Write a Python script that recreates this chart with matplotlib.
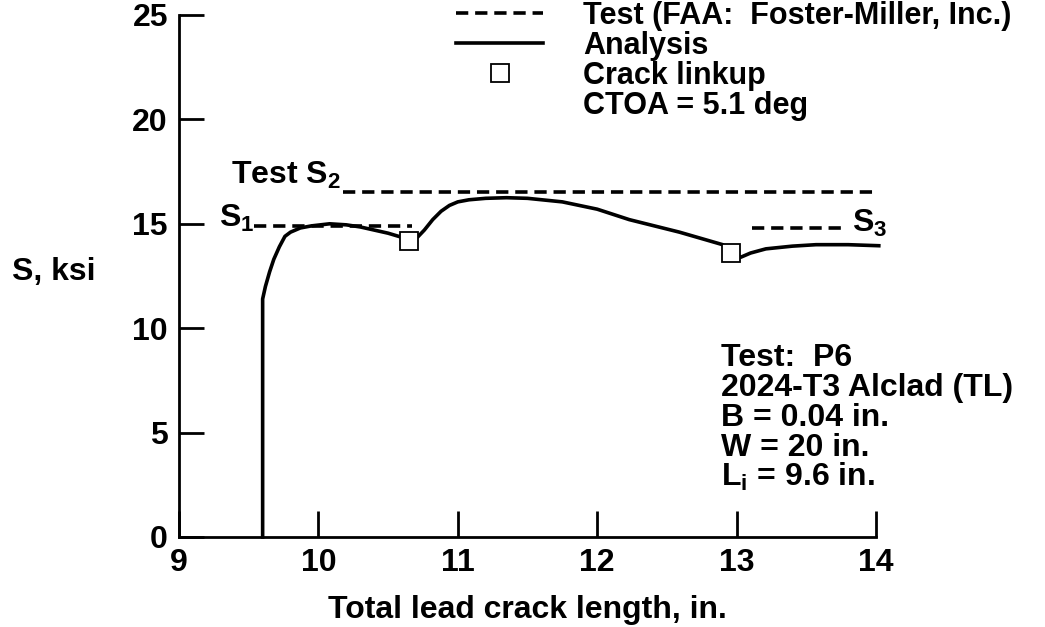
import matplotlib
matplotlib.use("Agg")
import matplotlib.pyplot as plt
from matplotlib.lines import Line2D

plt.rcParams['font.family'] = ['Liberation Sans', 'DejaVu Sans']
plt.rcParams['font.weight'] = 'bold'
plt.rcParams['axes.labelweight'] = 'bold'
plt.rcParams['mathtext.fontset'] = 'custom'
plt.rcParams['mathtext.rm'] = 'Liberation Sans:bold'
plt.rcParams['mathtext.it'] = 'Liberation Sans:bold'
plt.rcParams['mathtext.bf'] = 'Liberation Sans:bold'

# analysis curve (crack length in., stress ksi)
ana_x = [9.6, 9.6, 9.62, 9.65, 9.68, 9.72, 9.76, 9.8, 9.87, 9.95, 10.08, 10.2,
         10.3, 10.4, 10.5, 10.6, 10.65,
         10.71, 10.76, 10.82, 10.88, 10.94, 11.0, 11.08, 11.2, 11.35, 11.5,
         11.75, 12.0, 12.23, 12.59, 12.9, 12.96,
         13.03, 13.1, 13.21, 13.4, 13.57, 13.8, 14.02]
ana_s = [0, 11.4, 12.0, 12.7, 13.3, 13.9, 14.4, 14.6, 14.8, 14.9, 15.0, 14.95,
         14.85, 14.7, 14.55, 14.35, 14.2,
         14.35, 14.7, 15.2, 15.6, 15.88, 16.05, 16.15, 16.22, 16.25, 16.22,
         16.05, 15.7, 15.2, 14.6, 14.0, 13.6,
         13.4, 13.6, 13.8, 13.93, 14.0, 14.0, 13.95]

# crack linkup points
link_x = [10.65, 12.96]
link_s = [14.2, 13.6]

# test stress levels S1, S2, S3
s1_x = [9.54, 10.67]
s1_s = [14.9, 14.9]
s2_x = [10.18, 14.0]
s2_s = [16.5, 16.5]
s3_x = [13.11, 13.79]
s3_s = [14.8, 14.8]

x_ticks = [9, 10, 11, 12, 13, 14]
y_ticks = [0, 5, 10, 15, 20, 25]

info_lines = ["Test:  P6", "2024-T3 Alclad (TL)", "B = 0.04 in.", "W = 20 in.",
              r"L$_{\mathrm{i}}$ = 9.6 in."]
info_y = [8.19, 6.75, 5.32, 3.88, 2.44]

fs = 23
dash = (0, (3.4, 1.9))

fig = plt.figure(figsize=(10.45, 6.27), dpi=100)
ax = fig.add_axes([179 / 1045, 1 - 537 / 627, 697 / 1045, 522 / 627])

ax.plot(s1_x, s1_s, color='black', lw=2.6, linestyle=dash)
ax.plot(s2_x, s2_s, color='black', lw=2.6, linestyle=dash, clip_on=False)
ax.plot(s3_x, s3_s, color='black', lw=2.6, linestyle=dash)
ax.plot(ana_x, ana_s, color='black', lw=2.6, clip_on=False)
ax.plot(link_x, link_s, linestyle='none', marker='s', ms=13, mfc='white',
        mec='black', mew=1.3, zorder=5)

ax.text(9.54, 14.85, r"S$_1$", fontsize=fs, ha='right', va='baseline')
ax.text(9.37, 16.9, r"Test S$_2$", fontsize=fs, ha='left', va='baseline')
ax.text(13.83, 14.6, r"S$_3$", fontsize=fs, ha='left', va='baseline')

for line, yv in zip(info_lines, info_y):
    ax.text(12.89, yv, line, fontsize=fs, ha='left', va='baseline')

ax.set_xlim(9, 14)
ax.set_ylim(0, 25)
ax.set_xticks(x_ticks)
ax.set_yticks(y_ticks)
ax.spines['top'].set_visible(False)
ax.spines['right'].set_visible(False)
ax.spines['left'].set_linewidth(2)
ax.spines['bottom'].set_linewidth(2)
ax.tick_params(axis='y', direction='in', length=18, width=2, pad=8, labelsize=fs)
ax.tick_params(axis='x', direction='in', length=19, width=2, pad=8, labelsize=fs)

ax.set_xlabel("Total lead crack length, in.", fontsize=fs, labelpad=12)
ax.set_ylabel("S, ksi", fontsize=fs, rotation=0, ha='left', va='center')
ax.yaxis.set_label_coords(-0.2396, 0.508)

handles = [
    Line2D([], [], color='black', lw=2.6, linestyle=dash),
    Line2D([], [], color='black', lw=2.6),
    Line2D([], [], linestyle='none', marker='s', ms=13, mfc='white', mec='black', mew=1.3),
    Line2D([], [], linestyle='none'),
]
labels = ["Test (FAA:  Foster-Miller, Inc.)", "Analysis", "Crack linkup", "CTOA = 5.1 deg"]
fig.legend(handles, labels, loc='upper left', bbox_to_anchor=(456 / 1045, 1 - 1 / 627),
           frameon=False, fontsize=22, handlelength=2.85, handletextpad=1.3,
           labelspacing=0.0, borderpad=0, borderaxespad=0)

fig.savefig("out.png", dpi=100)
